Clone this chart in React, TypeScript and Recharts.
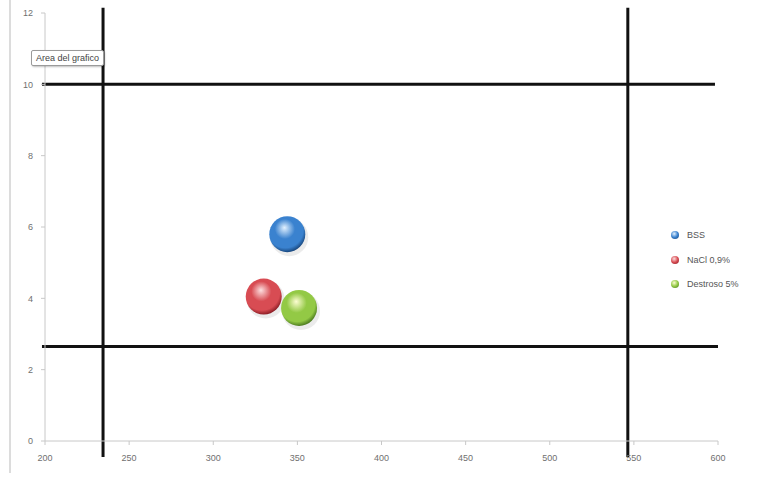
import { ScatterChart, Scatter, XAxis, YAxis, ReferenceLine } from "recharts";

// series
const seriesNames = ["BSS", "NaCl 0,9%", "Destroso 5%"];
const xValues = [344, 330, 351];
const yValues = [5.8, 4.05, 3.73];
const baseColors = ["#3a82cf", "#d84c53", "#93c945"];
const darkColors = ["#143f73", "#82171f", "#42701a"];
const lightColors = ["#e2f1ff", "#fde0e0", "#fdfdd2"];

const xTicks = [200, 250, 300, 350, 400, 450, 500, 550, 600];
const yTicks = [0, 2, 4, 6, 8, 10, 12];

// thick black guide lines
const vLines = [234.5, 546.4];
const hLines = [10, 2.65];
const hLineEnds = [598.2, 600];

const W = 776;
const H = 477;

function Sphere(props: any) {
  const { cx, cy, idx } = props;
  if (cx == null || cy == null) return null;
  const id = `sph-${idx}`;
  return (
    <g>
      <defs>
        <radialGradient id={id} cx="45%" cy="40%" r="62%" fx="42%" fy="32%">
          <stop offset="0%" stopColor={lightColors[idx]} />
          <stop offset="45%" stopColor={baseColors[idx]} />
          <stop offset="80%" stopColor={baseColors[idx]} />
          <stop offset="100%" stopColor={darkColors[idx]} />
        </radialGradient>
      </defs>
      <ellipse cx={cx + 2} cy={cy + 3} rx={19} ry={19} fill="rgba(0,0,0,0.08)" />
      <circle cx={cx} cy={cy} r={18} fill={`url(#${id})`} />
    </g>
  );
}

export default function App() {
  return (
    <div
      style={{
        position: "absolute",
        left: 0,
        top: 0,
        width: W,
        height: H,
        background: "#fff",
        fontFamily: "'Liberation Sans', Arial, sans-serif",
      }}
    >
      <div
        style={{
          position: "absolute",
          left: 9,
          top: 0,
          width: 2,
          height: H - 4,
          background: "#dcdcdc",
        }}
      />
      <ScatterChart
        width={W}
        height={H}
        margin={{ top: 13, right: 58, bottom: 6, left: 0 }}
      >
        <XAxis
          type="number"
          dataKey="x"
          domain={[200, 600]}
          ticks={xTicks}
          height={30}
          tickSize={4}
          tickMargin={10}
          axisLine={{ stroke: "#c8c8c8" }}
          tickLine={{ stroke: "#c8c8c8" }}
          tick={{ fontSize: 9, fill: "#707070" }}
        />
        <YAxis
          type="number"
          dataKey="y"
          domain={[0, 12]}
          ticks={yTicks}
          width={45}
          tickSize={4}
          tickMargin={8}
          axisLine={{ stroke: "#c8c8c8" }}
          tickLine={{ stroke: "#c8c8c8" }}
          tick={{ fontSize: 9, fill: "#707070" }}
        />
        {hLines.map((y, i) => (
          <ReferenceLine
            key={`h${i}`}
            segment={[
              { x: 198.2, y },
              { x: hLineEnds[i], y },
            ]}
            stroke="#111"
            strokeWidth={3}
            ifOverflow="visible"
          />
        ))}
        {vLines.map((x, i) => (
          <ReferenceLine
            key={`v${i}`}
            segment={[
              { x, y: -0.45 },
              { x, y: 12.15 },
            ]}
            stroke="#111"
            strokeWidth={3}
            ifOverflow="visible"
          />
        ))}
        {seriesNames.map((name, i) => (
          <Scatter
            key={name}
            name={name}
            data={[{ x: xValues[i], y: yValues[i] }]}
            fill={baseColors[i]}
            shape={(p: any) => <Sphere {...p} idx={i} />}
            isAnimationActive={false}
          />
        ))}
      </ScatterChart>

      {/* legend */}
      <div style={{ position: "absolute", left: 671, top: 223 }}>
        {seriesNames.map((name, i) => (
          <div
            key={name}
            style={{
              display: "flex",
              alignItems: "center",
              height: 24.5,
              fontSize: 9,
              color: "#555",
            }}
          >
            <span
              style={{
                display: "inline-block",
                width: 8,
                height: 8,
                borderRadius: "50%",
                marginRight: 8,
                background: `radial-gradient(circle at 40% 35%, ${lightColors[i]} 0%, ${baseColors[i]} 50%, ${darkColors[i]} 100%)`,
              }}
            />
            {name}
          </div>
        ))}
      </div>

      {/* chart-area hover label */}
      <div
        style={{
          position: "absolute",
          left: 31,
          top: 50,
          padding: "2px 4px",
          fontSize: 9,
          color: "#444",
          background: "#fff",
          border: "1px solid #9a9a9a",
          borderRadius: 2,
          boxShadow: "1px 1px 2px rgba(0,0,0,0.25)",
          whiteSpace: "nowrap",
        }}
      >
        Area del grafico
      </div>
    </div>
  );
}
